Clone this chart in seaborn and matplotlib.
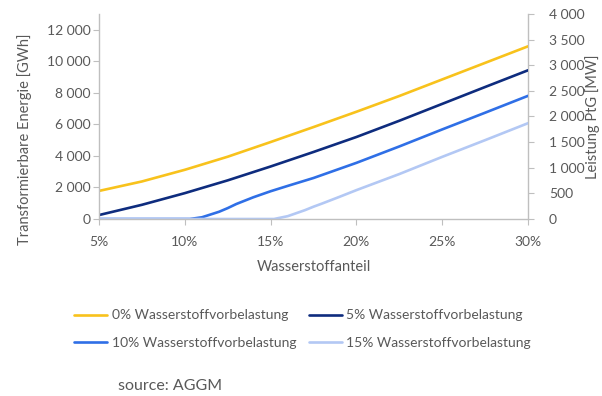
import matplotlib
matplotlib.use("Agg")
import matplotlib.pyplot as plt
from matplotlib.ticker import FuncFormatter
import numpy as np
import pandas as pd
import seaborn as sns

# Hydrogen share (%) and transformable energy (GWh) for each pre-load scenario
x_0 = [5, 7.5, 10, 12.5, 15, 17.5, 20, 22.5, 25, 27.5, 30]
y_0 = [1780, 2380, 3120, 3950, 4880, 5830, 6800, 7800, 8850, 9900, 10950]

x_5 = [5, 7.5, 10, 12.5, 15, 17.5, 20, 22.5, 25, 27.5, 30]
y_5 = [250, 900, 1640, 2450, 3330, 4250, 5200, 6230, 7300, 8370, 9430]

x_10 = [5, 10, 10.3, 11, 12, 12.5, 13, 14, 15, 16, 17.5, 20, 22.5, 25, 27.5, 30]
y_10 = [0, 0, 0, 110, 460, 690, 950, 1380, 1760, 2100, 2600, 3560, 4600, 5680, 6740, 7810]

x_15 = [5, 15, 15.2, 16, 17, 17.5, 18, 19, 20, 22.5, 25, 27.5, 30]
y_15 = [0, 0, 0, 180, 560, 780, 980, 1400, 1830, 2850, 3940, 5000, 6075]

labels = ["0% Wasserstoffvorbelastung", "5% Wasserstoffvorbelastung",
          "10% Wasserstoffvorbelastung", "15% Wasserstoffvorbelastung"]
colors = ["#F8C21C", "#0E2C7E", "#2F6FE6", "#B3C8F4"]

x_ticks = [5, 10, 15, 20, 25, 30]
x_tick_labels = ["5%", "10%", "15%", "20%", "25%", "30%"]
y_ticks_left = [0, 2000, 4000, 6000, 8000, 10000, 12000]
y_ticks_right = [0, 500, 1000, 1500, 2000, 2500, 3000, 3500, 4000]

frames = []
for xs, ys, lab in zip([x_0, x_5, x_10, x_15], [y_0, y_5, y_10, y_15], labels):
    frames.append(pd.DataFrame({"Anteil": xs, "Energie": ys, "Szenario": lab}))
df = pd.concat(frames, ignore_index=True)

sns.set_theme(style="white")
plt.rcParams["font.family"] = ["Lato", "DejaVu Sans"]

grey_text = "#595959"
grey_axis = "#BFBFBF"
thousands = FuncFormatter(lambda v, p: f"{v:,.0f}".replace(",", " "))

fig = plt.figure(figsize=(6.02, 3.96), dpi=100)
ax = fig.add_axes([99 / 602, 1 - 219 / 396, (528 - 99) / 602, (219 - 14) / 396])

sns.lineplot(data=df, x="Anteil", y="Energie", hue="Szenario",
             hue_order=labels, palette=colors, linewidth=1.9,
             estimator=None, sort=False, ax=ax)

ax.set_xlim(5, 30)
ax.set_ylim(0, 13000)
ax.set_xticks(x_ticks)
ax.set_xticklabels(x_tick_labels)
ax.set_yticks(y_ticks_left)
ax.yaxis.set_major_formatter(thousands)
ax.set_xlabel("Wasserstoffanteil", fontsize=10.5, color=grey_text, labelpad=9)
ax.set_ylabel("")

# secondary axis: electrolyser capacity
ax2 = ax.twinx()
ax2.set_ylim(0, 4000)
ax2.set_yticks(y_ticks_right)
ax2.yaxis.set_major_formatter(thousands)

for a in (ax, ax2):
    a.spines["top"].set_visible(False)
    for side in ("left", "bottom", "right"):
        a.spines[side].set_color(grey_axis)
        a.spines[side].set_linewidth(1.0)
    a.tick_params(colors=grey_text, labelsize=10, length=4, width=0.8)
    a.tick_params(axis="both", color=grey_axis)
ax.tick_params(axis="y", left=True, pad=2)
ax.tick_params(axis="x", bottom=True, pad=8)
ax2.tick_params(axis="y", right=True, pad=11)
ax2.spines["left"].set_visible(False)
ax2.spines["bottom"].set_visible(False)
ax.spines["right"].set_visible(False)
ax.set_zorder(ax2.get_zorder() + 1)
ax.patch.set_visible(False)

fig.text(25 / 602, 1 - 139 / 396, "Transformierbare Energie [GWh]", rotation=90,
         ha="center", va="center", fontsize=10.5, color=grey_text)
fig.text(593 / 602, 1 - 117 / 396, "Leistung PtG [MW]", rotation=90,
         ha="center", va="center", fontsize=10.5, color=grey_text)

handles, labs = ax.get_legend_handles_labels()
ax.get_legend().remove()
order = [0, 2, 1, 3]
leg = fig.legend([handles[i] for i in order], [labs[i] for i in order],
                 ncol=2, loc="center left", bbox_to_anchor=(74 / 602, 1 - 329 / 396),
                 frameon=False, fontsize=10, handlelength=2.4, handletextpad=0.3,
                 columnspacing=0.9, labelspacing=1.1, borderpad=0, borderaxespad=0)
for t in leg.get_texts():
    t.set_color(grey_text)
for h in leg.get_lines():
    h.set_linewidth(1.9)

fig.text(118 / 602, 1 - 386 / 396, "source: AGGM", ha="left", va="center",
         fontsize=11.5, color=grey_text)

fig.savefig("out.png", dpi=100, facecolor="white")
